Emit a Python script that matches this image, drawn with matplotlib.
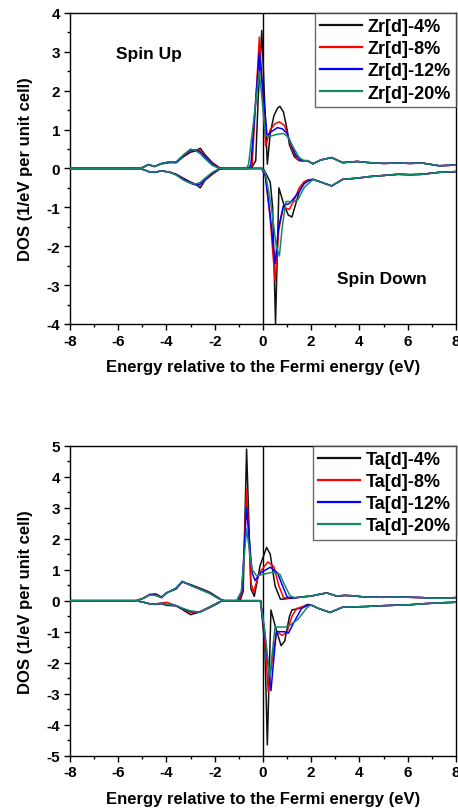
import numpy as np
import matplotlib
matplotlib.use("Agg")
import matplotlib.pyplot as plt
from matplotlib.ticker import MultipleLocator

plt.rcParams['font.family'] = ['Liberation Sans', 'DejaVu Sans']
plt.rcParams['font.weight'] = 'bold'
plt.rcParams['axes.unicode_minus'] = False

labels_zr = ["Zr[d]-4%", "Zr[d]-8%", "Zr[d]-12%", "Zr[d]-20%"]
labels_ta = ["Ta[d]-4%", "Ta[d]-8%", "Ta[d]-12%", "Ta[d]-20%"]
colors = ["#111111", "#ff0000", "#0000ff", "#13896a"]

# ---------------- Zr panel ----------------
zr_e_lo = [-8, -5.1, -4.9, -4.75, -4.5, -4.2, -3.85, -3.6, -3.3, -3.0, -2.8, -2.6, -2.4, -2.1, -1.8, -1.5]
zr_up_lo = [
    [0, 0, 0.05, 0.1, 0.05, 0.12, 0.15, 0.15, 0.3, 0.42, 0.45, 0.52, 0.35, 0.15, 0.02, 0],
    [0, 0, 0.05, 0.1, 0.05, 0.13, 0.17, 0.15, 0.32, 0.46, 0.48, 0.45, 0.3, 0.12, 0.0, 0],
    [0, 0, 0.05, 0.1, 0.05, 0.13, 0.17, 0.16, 0.33, 0.48, 0.47, 0.42, 0.28, 0.1, 0, 0],
    [0, 0, 0.05, 0.1, 0.05, 0.12, 0.17, 0.17, 0.35, 0.5, 0.46, 0.38, 0.25, 0.08, 0, 0],
]
zr_dn_lo = [
    [0, 0, -0.04, -0.08, -0.1, -0.06, -0.1, -0.15, -0.25, -0.35, -0.4, -0.5, -0.3, -0.15, -0.02, 0],
    [0, 0, -0.04, -0.08, -0.1, -0.06, -0.1, -0.15, -0.27, -0.37, -0.42, -0.42, -0.3, -0.13, 0, 0],
    [0, 0, -0.04, -0.08, -0.1, -0.06, -0.1, -0.16, -0.28, -0.38, -0.42, -0.4, -0.28, -0.12, 0, 0],
    [0, 0, -0.04, -0.08, -0.1, -0.06, -0.1, -0.17, -0.3, -0.38, -0.4, -0.36, -0.25, -0.1, 0, 0],
]
zr_up_mid_e = [
    [-1.0, -0.6, -0.47, -0.3, -0.2, -0.05, 0.05, 0.18, 0.3, 0.45, 0.6, 0.7, 0.85, 1.0, 1.1, 1.3, 1.5, 1.85],
    [-1.0, -0.55, -0.45, -0.15, 0.11, 0.3, 0.5, 0.68, 0.9, 1.0, 1.2, 1.4, 1.6, 1.85],
    [-1.0, -0.6, -0.5, -0.15, 0.17, 0.35, 0.6, 0.8, 1.0, 1.15, 1.35, 1.6, 1.85],
    [-1.0, -0.7, -0.6, -0.15, 0.1, 0.3, 0.6, 0.85, 1.05, 1.25, 1.5, 1.7, 1.85],
]
zr_up_mid = [
    [0, 0, 0.02, 0.2, 1.8, 3.55, 2.0, 0.11, 0.9, 1.35, 1.55, 1.6, 1.45, 1.0, 0.6, 0.3, 0.2, 0.2],
    [0, 0, 0.1, 3.38, 0.58, 1.0, 1.15, 1.2, 1.1, 0.9, 0.5, 0.25, 0.2, 0.2],
    [0, 0, 0.1, 3.0, 0.84, 0.95, 1.05, 1.02, 0.9, 0.65, 0.35, 0.2, 0.2],
    [0, 0, 0.1, 2.5, 0.85, 0.83, 0.88, 0.9, 0.8, 0.55, 0.28, 0.2, 0.2],
]
zr_dn_mid_e = [
    [-1.0, 0.0, 0.1, 0.3, 0.4, 0.52, 0.66, 0.85, 1.05, 1.2, 1.5, 1.7, 1.85],
    [-1.0, -0.05, 0.1, 0.3, 0.5, 0.65, 0.84, 1.1, 1.3, 1.5, 1.7, 1.85],
    [-1.0, -0.05, 0.1, 0.3, 0.5, 0.65, 0.85, 1.1, 1.3, 1.5, 1.7, 1.85],
    [-1.0, -0.05, 0.1, 0.35, 0.55, 0.68, 0.8, 0.95, 1.3, 1.45, 1.7, 1.9],
]
zr_dn_mid = [
    [0, 0, -0.1, -0.35, -1.0, -4.0, -0.5, -0.9, -1.2, -1.25, -0.6, -0.35, -0.3],
    [0, 0, -0.2, -1.3, -2.9, -1.6, -1.0, -1.05, -0.8, -0.5, -0.35, -0.3],
    [0, 0, -0.2, -1.2, -2.45, -1.5, -0.95, -0.9, -0.75, -0.6, -0.4, -0.33],
    [0, 0, -0.12, -1.0, -2.0, -2.25, -1.5, -0.85, -0.85, -0.8, -0.5, -0.38],
]
zr_e_hi = [2.07, 2.4, 2.85, 3.3, 3.9, 4.4, 5.0, 5.6, 6.1, 6.6, 7.0, 7.3, 7.7, 8.0]
zr_up_hi = [0.12, 0.22, 0.28, 0.15, 0.18, 0.15, 0.13, 0.14, 0.13, 0.14, 0.1, 0.07, 0.08, 0.09]
zr_dn_hi = [-0.28, -0.35, -0.45, -0.28, -0.25, -0.21, -0.18, -0.15, -0.16, -0.15, -0.12, -0.1, -0.09, -0.08]

# ---------------- Ta panel ----------------
ta_e_lo = [-8, -5.25, -4.95, -4.7, -4.45, -4.2, -4.0, -3.6, -3.35, -3.0, -2.6, -2.2, -1.9, -1.7]
ta_up_lo = [
    [0, 0, 0.08, 0.2, 0.22, 0.12, 0.25, 0.38, 0.6, 0.52, 0.4, 0.27, 0.12, 0.02],
    [0, 0, 0.08, 0.2, 0.18, 0.1, 0.25, 0.4, 0.62, 0.5, 0.38, 0.25, 0.1, 0.02],
    [0, 0, 0.08, 0.19, 0.18, 0.1, 0.25, 0.4, 0.62, 0.5, 0.37, 0.24, 0.1, 0.02],
    [0, 0, 0.08, 0.18, 0.17, 0.1, 0.24, 0.41, 0.63, 0.49, 0.36, 0.23, 0.09, 0.01],
]
ta_dn_lo = [
    [0, 0, -0.05, -0.1, -0.12, -0.1, -0.15, -0.17, -0.28, -0.45, -0.36, -0.22, -0.1, 0],
    [0, 0, -0.05, -0.1, -0.1, -0.08, -0.05, -0.16, -0.26, -0.38, -0.35, -0.2, -0.08, 0],
    [0, 0, -0.05, -0.1, -0.11, -0.08, -0.12, -0.16, -0.25, -0.35, -0.36, -0.2, -0.08, 0],
    [0, 0, -0.05, -0.1, -0.11, -0.08, -0.12, -0.16, -0.24, -0.33, -0.37, -0.2, -0.08, 0],
]
ta_up_mid_e = [
    [-1.6, -0.95, -0.82, -0.68, -0.5, -0.36, -0.12, 0.15, 0.3, 0.5, 0.72, 0.85, 1.1, 1.4],
    [-1.6, -1.0, -0.85, -0.68, -0.5, -0.4, -0.15, 0.2, 0.45, 0.65, 0.85, 1.1, 1.4],
    [-1.6, -1.05, -0.88, -0.68, -0.45, -0.33, -0.1, 0.3, 0.6, 0.8, 1.0, 1.2, 1.4],
    [-1.6, -1.09, -0.9, -0.68, -0.45, -0.26, 0.0, 0.4, 0.7, 0.9, 1.12, 1.3, 1.4],
]
ta_up_mid = [
    [0, 0, 0.3, 4.89, 0.38, 0.14, 1.13, 1.72, 1.5, 0.48, 0.05, 0.05, 0.08, 0.1],
    [0, 0, 0.3, 3.6, 0.6, 0.27, 0.9, 1.25, 1.1, 0.5, 0.1, 0.08, 0.1],
    [0, 0, 0.3, 3.0, 0.9, 0.65, 0.9, 1.08, 0.9, 0.5, 0.12, 0.08, 0.1],
    [0, 0, 0.3, 2.31, 1.0, 0.8, 0.85, 0.92, 0.85, 0.5, 0.16, 0.1, 0.1],
]
ta_dn_mid_e = [
    [-1.6, -0.1, 0.08, 0.18, 0.33, 0.5, 0.75, 0.9, 1.1, 1.2, 1.5, 1.85],
    [-1.6, -0.1, 0.05, 0.22, 0.4, 0.57, 0.8, 1.0, 1.2, 1.4, 1.85],
    [-1.6, -0.1, 0.05, 0.2, 0.33, 0.55, 0.9, 1.05, 1.35, 1.6, 1.85],
    [-1.6, -0.12, 0.05, 0.28, 0.5, 0.9, 1.1, 1.45, 1.8, 1.9],
]
ta_dn_mid = [
    [0, 0, -1.5, -4.65, -0.3, -0.8, -1.45, -1.3, -0.5, -0.3, -0.25, -0.12],
    [0, 0, -1.0, -2.95, -1.8, -1.0, -1.12, -1.0, -0.5, -0.25, -0.15],
    [0, 0, -0.9, -2.0, -2.9, -1.0, -1.0, -1.05, -0.6, -0.25, -0.15],
    [0, 0, -0.8, -2.45, -0.85, -0.85, -0.8, -0.6, -0.25, -0.18],
]
ta_e_up_hi = [1.6, 2.0, 2.3, 2.64, 3.05, 3.4, 3.7, 4.2, 5.0, 5.5, 6.1, 6.6, 7.0, 7.5, 8.0]
ta_up_hi = [0.12, 0.15, 0.2, 0.25, 0.15, 0.17, 0.16, 0.12, 0.11, 0.12, 0.11, 0.1, 0.08, 0.08, 0.1]
ta_e_dn_hi = [2.0, 2.3, 2.78, 3.3, 3.7, 4.2, 5.0, 5.7, 6.1, 6.6, 7.3, 8.0]
ta_dn_hi = [-0.14, -0.25, -0.38, -0.21, -0.2, -0.19, -0.16, -0.14, -0.13, -0.1, -0.07, -0.05]


def style_axes(ax, ymin, ymax):
    ax.set_xlim(-8, 8)
    ax.set_ylim(ymin, ymax)
    ax.xaxis.set_major_locator(MultipleLocator(2))
    ax.xaxis.set_minor_locator(MultipleLocator(1))
    ax.yaxis.set_major_locator(MultipleLocator(1))
    ax.yaxis.set_minor_locator(MultipleLocator(0.5))
    ax.tick_params(which='major', direction='out', length=4, width=1, labelsize=11, pad=3)
    ax.tick_params(which='minor', direction='out', length=2.5, width=1)
    for lab in ax.get_xticklabels() + ax.get_yticklabels():
        lab.set_fontweight('bold')
    for s in ax.spines.values():
        s.set_linewidth(1.0)
    ax.axvline(0, color='black', lw=1.0, zorder=1)
    ax.set_xlabel('Energy relative to the Fermi energy (eV)', fontsize=12, fontweight='bold', labelpad=8)
    ax.set_ylabel('DOS (1/eV per unit cell)', fontsize=12, fontweight='bold', labelpad=10)


def draw_panel(ax, labels, e_lo, up_lo, dn_lo, up_e, up_mid, dn_e, dn_mid, e_up_hi, up_hi, e_dn_hi, dn_hi):
    for i in range(4):
        x = e_lo + up_e[i] + e_up_hi
        y = up_lo[i] + up_mid[i] + up_hi
        ax.plot(x, y, color=colors[i], lw=1.1, label=labels[i], zorder=2 + i)
        x = e_lo + dn_e[i] + e_dn_hi
        y = dn_lo[i] + dn_mid[i] + dn_hi
        ax.plot(x, y, color=colors[i], lw=1.1, zorder=2 + i)
    leg = ax.legend(loc='upper right', borderaxespad=0, frameon=True, fancybox=False,
                    handlelength=2.3, labelspacing=0.28, borderpad=0.3, handletextpad=0.3,
                    prop={'weight': 'bold', 'size': 13})
    leg.get_frame().set_edgecolor('#444444')
    leg.get_frame().set_linewidth(1.0)
    for h in leg.get_lines():
        h.set_linewidth(1.6)


fig = plt.figure(figsize=(4.58, 8.12), dpi=100)
ax1 = fig.add_axes([0.1528, 0.5998, 0.8428, 0.3830])
ax2 = fig.add_axes([0.1528, 0.0681, 0.8428, 0.3818])

draw_panel(ax1, labels_zr, zr_e_lo, zr_up_lo, zr_dn_lo, zr_up_mid_e, zr_up_mid,
           zr_dn_mid_e, zr_dn_mid, zr_e_hi, zr_up_hi, zr_e_hi, zr_dn_hi)
style_axes(ax1, -4, 4)
ax1.text(-6.1, 2.95, 'Spin Up', fontsize=12.5, fontweight='bold', va='center', ha='left')
ax1.text(3.05, -2.84, 'Spin Down', fontsize=12.5, fontweight='bold', va='center', ha='left')

draw_panel(ax2, labels_ta, ta_e_lo, ta_up_lo, ta_dn_lo, ta_up_mid_e, ta_up_mid,
           ta_dn_mid_e, ta_dn_mid, ta_e_up_hi, ta_up_hi, ta_e_dn_hi, ta_dn_hi)
style_axes(ax2, -5, 5)

fig.savefig('out.png', dpi=100)
